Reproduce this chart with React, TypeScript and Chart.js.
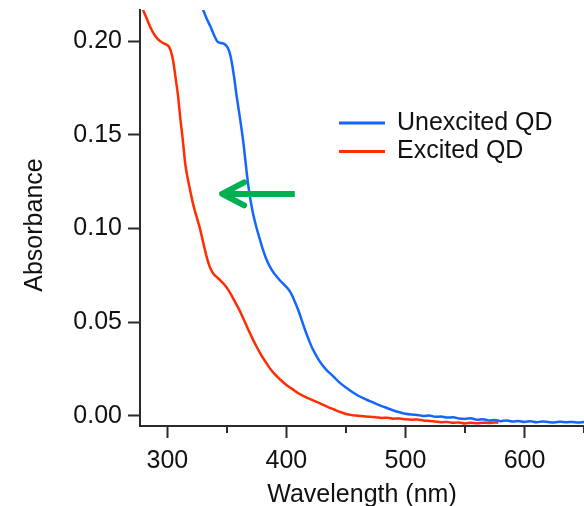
import React, { useEffect, useRef } from "react";
import { Chart, registerables } from "chart.js";

Chart.register(...registerables);

// Absorption spectrum of the unexcited quantum dots
const unexcitedWavelength = [
  325, 330, 333, 336, 339, 342, 345, 348, 350, 352, 354, 356, 358, 360, 362, 364, 366, 368, 370, 372,
  374, 376, 378, 380, 383, 386, 389, 392, 395, 398, 401, 404, 407, 410, 413, 416, 419, 422, 426, 430,
  434, 438, 442, 446, 450, 455, 460, 465, 470, 475, 480, 485, 490, 495, 500, 505, 510, 515, 520, 525,
  530, 535, 540, 545, 550, 555, 560, 565, 570, 575, 580, 585, 590, 595, 600, 605, 610, 615, 620, 625,
  630, 635, 640, 645, 650,
];
const unexcitedAbsorbance = [
  0.225, 0.2167, 0.212, 0.208, 0.2035, 0.1998, 0.199, 0.1984, 0.1972, 0.1945, 0.189, 0.181, 0.1715, 0.163,
  0.1545, 0.145, 0.1335, 0.1228, 0.1145, 0.1078, 0.1025, 0.0978, 0.0935, 0.0892, 0.0838, 0.0797, 0.0766,
  0.0742, 0.0719, 0.07, 0.068, 0.0652, 0.061, 0.0563, 0.0508, 0.0452, 0.0402, 0.0357, 0.031, 0.0272,
  0.0242, 0.0218, 0.0193, 0.017, 0.015, 0.0128, 0.0108, 0.0092, 0.0078, 0.0064, 0.0051, 0.004, 0.0028,
  0.0018, 0.001, 0.0006, 0.0004, -0.0001, 0.0001, -0.0006, -0.0004, -0.001, -0.0008, -0.0015, -0.0017,
  -0.0014, -0.0021, -0.0019, -0.0025, -0.0023, -0.0029, -0.0026, -0.0031, -0.0028, -0.0033, -0.003,
  -0.0035, -0.0031, -0.0034, -0.0036, -0.0032, -0.0035, -0.0033, -0.0036, -0.0034,
];

// Absorption spectrum after excitation (blue-shifted)
const excitedWavelength = [
  277, 280, 283, 286, 289, 292, 295, 298, 301, 303, 305, 307, 309, 311, 313, 315, 317, 319, 321, 323,
  325, 327, 329, 331, 333, 335, 337, 339, 342, 345, 348, 351, 354, 357, 360, 363, 366, 369, 372, 375,
  378, 382, 386, 390, 395, 400, 405, 410, 415, 420, 425, 430, 435, 440, 445, 450, 455, 460, 465, 470,
  475, 480, 485, 490, 495, 500, 505, 510, 515, 520, 525, 530, 535, 540, 545, 550, 555, 560, 565, 570,
  575, 578,
];
const excitedAbsorbance = [
  0.2205, 0.216, 0.2115, 0.207, 0.2035, 0.201, 0.1995, 0.1985, 0.1972, 0.1945, 0.189, 0.18, 0.1705, 0.158,
  0.147, 0.1345, 0.127, 0.1207, 0.1147, 0.1096, 0.1052, 0.1008, 0.0955, 0.09, 0.0848, 0.0805, 0.0775,
  0.0755, 0.0737, 0.0719, 0.0699, 0.0673, 0.0641, 0.0605, 0.057, 0.053, 0.0488, 0.0445, 0.0405, 0.0368,
  0.0333, 0.0292, 0.0254, 0.0223, 0.0192, 0.0164, 0.0142, 0.012, 0.0103, 0.0088, 0.0075, 0.006, 0.0046,
  0.0033, 0.002, 0.0009, 0.0003, 0.0, -0.0003, -0.0006, -0.0008, -0.0012, -0.0011, -0.0016, -0.0015,
  -0.0019, -0.0021, -0.002, -0.0026, -0.0028, -0.0031, -0.0035, -0.0033, -0.0038, -0.0036, -0.0041,
  -0.0038, -0.004, -0.0037, -0.0039, -0.0036, -0.0037,
];

const seriesLabels = ["Unexcited QD", "Excited QD"];
const xMajorTicks = [300, 400, 500, 600];
const xMinorTicks = [350, 450, 550, 650];
const yTicks = [0, 0.05, 0.1, 0.15, 0.2];

// Arrow marking the blue shift (wavelength, absorbance)
const arrowTail = { x: 407, y: 0.1184 };
const arrowTip = { x: 346, y: 0.1184 };

const FONT = '"Liberation Sans", Arial, sans-serif';
const AXIS_COLOR = "#2b2b2b";
const TEXT_COLOR = "#111111";
const BLUE = "#1366ff";
const RED = "#ff2d00";
const GREEN = "#00b050";

const minorTickPlugin = {
  id: "minorTicks",
  afterDraw(chart: any) {
    const { ctx, chartArea } = chart;
    const xs = chart.scales.x;
    ctx.save();
    ctx.strokeStyle = AXIS_COLOR;
    ctx.lineWidth = 2;
    xMinorTicks.forEach((v) => {
      const px = Math.round(xs.getPixelForValue(v));
      ctx.beginPath();
      ctx.moveTo(px, chartArea.bottom);
      ctx.lineTo(px, chartArea.bottom + 7);
      ctx.stroke();
    });
    ctx.restore();
  },
};

const arrowPlugin = {
  id: "shiftArrow",
  afterDatasetsDraw(chart: any) {
    const { ctx } = chart;
    const xs = chart.scales.x;
    const ys = chart.scales.y;
    const tx = xs.getPixelForValue(arrowTip.x);
    const ty = ys.getPixelForValue(arrowTip.y);
    const sx = xs.getPixelForValue(arrowTail.x);
    const sy = ys.getPixelForValue(arrowTail.y);
    ctx.save();
    ctx.strokeStyle = GREEN;
    ctx.lineWidth = 6;
    ctx.lineCap = "butt";
    ctx.beginPath();
    ctx.moveTo(sx, sy);
    ctx.lineTo(tx + 2, ty);
    ctx.stroke();
    ctx.lineCap = "round";
    ctx.lineJoin = "round";
    ctx.beginPath();
    ctx.moveTo(tx + 22, ty - 11.5);
    ctx.lineTo(tx, ty);
    ctx.lineTo(tx + 22, ty + 11.5);
    ctx.stroke();
    ctx.restore();
  },
};

const legendPlugin = {
  id: "lineLegend",
  afterDraw(chart: any) {
    const { ctx, chartArea } = chart;
    const x0 = chartArea.left + 199;
    const y0 = chartArea.top + 113;
    chart.data.datasets.forEach((ds: any, i: number) => {
      const y = y0 + i * 28.5;
      ctx.save();
      ctx.strokeStyle = ds.borderColor;
      ctx.lineWidth = 3;
      ctx.beginPath();
      ctx.moveTo(x0, y);
      ctx.lineTo(x0 + 46, y);
      ctx.stroke();
      ctx.fillStyle = TEXT_COLOR;
      ctx.font = `25px ${FONT}`;
      ctx.textBaseline = "middle";
      ctx.textAlign = "left";
      ctx.fillText(ds.label, x0 + 58, y);
      ctx.restore();
    });
  },
};

// Vertical axis title, centred a little below the middle of the plot
const yTitlePlugin = {
  id: "yTitle",
  afterDraw(chart: any) {
    const { ctx, chartArea } = chart;
    ctx.save();
    ctx.translate(35, (chartArea.top + chartArea.bottom) / 2 + 7);
    ctx.rotate(-Math.PI / 2);
    ctx.fillStyle = TEXT_COLOR;
    ctx.font = `25px ${FONT}`;
    ctx.textAlign = "center";
    ctx.textBaseline = "middle";
    ctx.fillText("Absorbance", 0, 0);
    ctx.restore();
  },
};

export default function App() {
  const canvasRef = useRef<HTMLCanvasElement | null>(null);

  useEffect(() => {
    const canvas = canvasRef.current;
    if (!canvas) return;
    const chart = new Chart(canvas, {
      type: "line",
      data: {
        datasets: [
          {
            label: seriesLabels[0],
            data: unexcitedWavelength.map((w, i) => ({ x: w, y: unexcitedAbsorbance[i] })),
            borderColor: BLUE,
            borderWidth: 2.5,
            pointRadius: 0,
            cubicInterpolationMode: "monotone",
          },
          {
            label: seriesLabels[1],
            data: excitedWavelength.map((w, i) => ({ x: w, y: excitedAbsorbance[i] })),
            borderColor: RED,
            borderWidth: 2.5,
            pointRadius: 0,
            cubicInterpolationMode: "monotone",
          },
        ],
      },
      options: {
        animation: false,
        responsive: false,
        devicePixelRatio: 1,
        layout: { padding: { top: 10, right: 0, bottom: 0, left: 0 } },
        plugins: {
          legend: { display: false },
          tooltip: { enabled: false },
        },
        scales: {
          x: {
            type: "linear",
            min: 277,
            max: 650,
            afterBuildTicks: (s: any) => {
              s.ticks = [...xMajorTicks, ...xMinorTicks]
                .sort((a, b) => a - b)
                .map((v) => ({ value: v }));
            },
            afterFit: (s: any) => {
              s.height = 80;
              s.paddingLeft = 0;
              s.paddingRight = 0;
            },
            ticks: {
              autoSkip: false,
              maxRotation: 0,
              padding: 8,
              color: TEXT_COLOR,
              font: { family: FONT, size: 25 },
              callback: (v: any) => (xMajorTicks.includes(Number(v)) ? String(v) : ""),
            },
            grid: {
              drawOnChartArea: false,
              tickLength: 12,
              tickWidth: 2,
              tickColor: (c: any) =>
                c.tick && xMajorTicks.includes(c.tick.value) ? AXIS_COLOR : "rgba(0,0,0,0)",
            },
            border: { display: true, color: AXIS_COLOR, width: 2 },
            title: {
              display: true,
              text: "Wavelength (nm)",
              color: TEXT_COLOR,
              font: { family: FONT, size: 25, lineHeight: 0.9 },
              padding: { top: 0, bottom: 0 },
            },
          },
          y: {
            type: "linear",
            min: -0.0055,
            max: 0.2166,
            afterBuildTicks: (s: any) => {
              s.ticks = yTicks.map((v) => ({ value: v }));
            },
            afterFit: (s: any) => {
              s.width = 140;
              s.paddingTop = 0;
              s.paddingBottom = 0;
            },
            ticks: {
              padding: 6,
              color: TEXT_COLOR,
              font: { family: FONT, size: 25 },
              callback: (v: any) => Number(v).toFixed(2),
            },
            grid: {
              drawOnChartArea: false,
              tickLength: 12,
              tickWidth: 2,
              tickColor: AXIS_COLOR,
            },
            border: { display: true, color: AXIS_COLOR, width: 2 },
            title: { display: false },
          },
        },
      },
      plugins: [minorTickPlugin, arrowPlugin, legendPlugin, yTitlePlugin],
    } as any);
    return () => chart.destroy();
  }, []);

  return (
    <div style={{ position: "fixed", left: 0, top: 0, width: 584, height: 506, background: "#fff" }}>
      <canvas ref={canvasRef} width={584} height={506} style={{ display: "block" }} />
    </div>
  );
}
